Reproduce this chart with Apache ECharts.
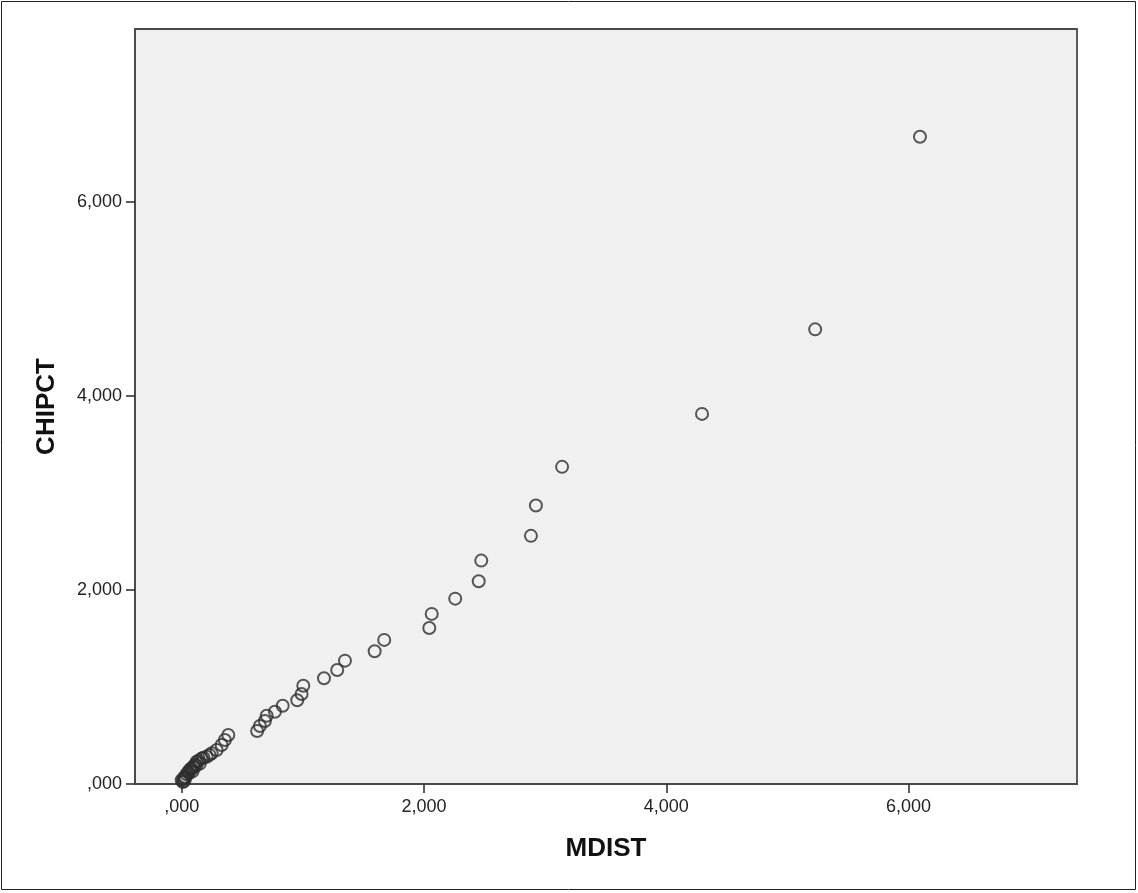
<!DOCTYPE html>
<html>
<head>
<meta charset="utf-8">
<title>CHIPCT vs MDIST</title>
<script src="https://cdn.jsdelivr.net/npm/echarts@6/dist/echarts.min.js"></script>
<style>
  html, body { margin: 0; padding: 0; background: #fff; }
  #chart { width: 1138px; height: 893px; }
</style>
</head>
<body>
<div id="chart"></div>
<script>
// values (axis units, comma used as decimal mark in labels)
const mdist = [
  6.094, 5.229, 4.295, 3.140, 2.924, 2.883, 2.473, 2.452, 2.258, 2.064,
  2.044, 1.672, 1.593, 1.348, 1.284, 1.175, 1.004, 0.990, 0.954, 0.834,
  0.770, 0.702, 0.687, 0.646, 0.623, 0.385, 0.357, 0.330, 0.289, 0.248,
  0.206, 0.165, 0.124, 0.096, 0.055, 0.027, 0.000, 0.014, 0.110, 0.140,
  0.180, 0.070, 0.040, 0.010, 0.230, 0.080, 0.120, 0.060, 0.090, 0.030,
  0.150, 0.100, 0.020
];
const chipct = [
  6.670, 4.685, 3.814, 3.268, 2.870, 2.557, 2.302, 2.090, 1.910, 1.753,
  1.608, 1.485, 1.368, 1.271, 1.175, 1.090, 1.013, 0.928, 0.863, 0.807,
  0.745, 0.704, 0.649, 0.598, 0.546, 0.505, 0.454, 0.402, 0.351, 0.316,
  0.281, 0.264, 0.229, 0.178, 0.126, 0.075, 0.040, 0.055, 0.200, 0.240,
  0.270, 0.150, 0.100, 0.020, 0.300, 0.160, 0.190, 0.110, 0.130, 0.060,
  0.210, 0.170, 0.030
];
const xTicks = [0, 2, 4, 6];
const yTicks = [0, 2, 4, 6];

const fmt = (v) => v.toFixed(3).replace(/^0/, "").replace(".", ",");

const chart = echarts.init(document.getElementById("chart"));
const axisLine = { show: true, onZero: false, lineStyle: { color: "#4a4a4a", width: 1.8 } };
const nameStyle = { fontFamily: "Liberation Sans", fontSize: 26, fontWeight: "bold", color: "#111" };
const labelStyle = { fontFamily: "Liberation Sans", fontSize: 18, color: "#222" };

chart.setOption({
  backgroundColor: "#fff",
  animation: false,
  graphic: [
    {
      type: "rect",
      shape: { x: 1.5, y: 1.5, width: 1134, height: 888 },
      style: { fill: "none", stroke: "#222", lineWidth: 1 },
      silent: true
    }
  ],
  grid: {
    left: 135,
    right: 61,
    top: 29,
    bottom: 109,
    show: true,
    backgroundColor: "#f0f0f0",
    borderColor: "#4a4a4a",
    borderWidth: 1.8
  },
  xAxis: {
    type: "value",
    min: -0.385,
    max: 7.39,
    name: "MDIST",
    nameLocation: "middle",
    nameGap: 52,
    nameTextStyle: nameStyle,
    axisLine,
    splitLine: { show: false },
    axisTick: { show: true, length: 9, customValues: xTicks, lineStyle: { color: "#333", width: 1.6 } },
    axisLabel: Object.assign({ customValues: xTicks, formatter: fmt, margin: 14 }, labelStyle)
  },
  yAxis: {
    type: "value",
    min: 0,
    max: 7.78,
    name: "CHIPCT",
    nameLocation: "middle",
    nameRotate: 90,
    nameGap: 75,
    nameTextStyle: nameStyle,
    axisLine,
    splitLine: { show: false },
    axisTick: { show: true, length: 9, customValues: yTicks, lineStyle: { color: "#333", width: 1.6 } },
    axisLabel: Object.assign({ customValues: yTicks, formatter: fmt, margin: 13, padding: [5, 0, 0, 0] }, labelStyle)
  },
  series: [
    {
      type: "scatter",
      symbol: "circle",
      symbolSize: 12,
      itemStyle: { color: "transparent", borderColor: "#2e2e2e", borderWidth: 2 },
      data: mdist.map((x, i) => [x, chipct[i]])
    }
  ]
});
</script>
</body>
</html>
